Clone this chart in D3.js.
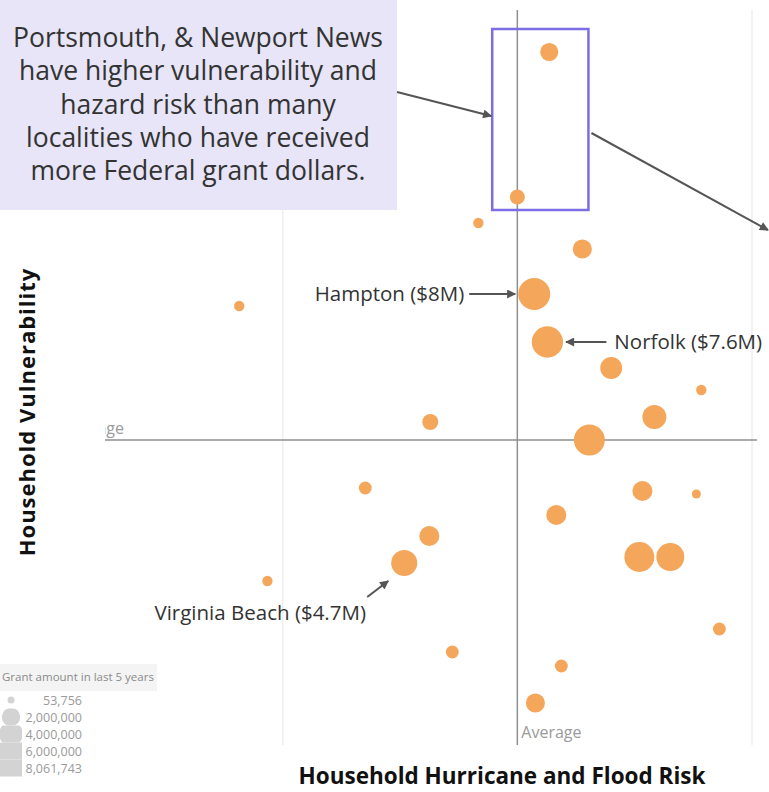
<!DOCTYPE html>
<html>
<head>
<meta charset="utf-8">
<script src="https://cdn.jsdelivr.net/npm/d3@7"></script>
<style>
  body { margin: 0; background: #fff; }
  text { font-family: "Open Sans", sans-serif; }
</style>
</head>
<body>
<div id="chart"></div>
<script>
// household hurricane/flood risk (x) vs household vulnerability (y), 0 = average
const xRisk = [0.136, 0.0, -0.166, 0.277, -1.185, 0.072, 0.128, 0.40, 0.784, -0.371, 0.584, 0.307, -0.648,
  0.533, 0.763, 0.166, -0.375, -0.482, 0.52, 0.652, -1.065, 0.861, -0.277, 0.1875, 0.077]
const yVuln = [3.88, 2.43, 2.17, 1.91, 1.34, 1.46, 0.98, 0.72, 0.50, 0.18, 0.23, 0.00, -0.48,
  -0.51, -0.54, -0.75, -0.96, -1.23, -1.17, -1.17, -1.41, -1.89, -2.12, -2.26, -2.63]
const grants = [1600000, 850000, 150000, 1900000, 150000, 8061743, 7600000, 2900000, 150000, 1050000, 3700000, 7400000, 450000,
  2200000, 53756, 2200000, 2200000, 4700000, 6800000, 5700000, 150000, 450000, 450000, 450000, 1900000]
const callouts = [
  {i: 5, label: "Hampton ($8M)", side: "left"},
  {i: 6, label: "Norfolk ($7.6M)", side: "right"},
  {i: 17, label: "Virginia Beach ($4.7M)", side: "below"}
]
const legendValues = [53756, 2000000, 4000000, 6000000, 8061743]
const noteLines = ["Portsmouth, & Newport News", "have higher vulnerability and", "hazard risk than many",
  "localities who have received", "more Federal grant dollars."]

const width = 769, height = 792

const x = d3.scaleLinear().domain([-2, 1]).range([48, 752])
const y = d3.scaleLinear().domain([-3.05, 4.3]).range([745, 10])
const r = d3.scaleSqrt().domain([53756, 8061743]).range([4.5, 16])

const data = xRisk.map((d, i) => ({x: d, y: yVuln[i], g: grants[i]}))

const svg = d3.select("#chart").append("svg")
    .attr("width", width)
    .attr("height", height)

const defs = svg.append("defs")
defs.append("marker")
    .attr("id", "arrow")
    .attr("viewBox", "0 0 10 10")
    .attr("refX", 9).attr("refY", 5)
    .attr("markerWidth", 10).attr("markerHeight", 9)
    .attr("markerUnits", "userSpaceOnUse")
    .attr("orient", "auto")
  .append("path")
    .attr("d", "M0,0L10,5L0,10z")
    .attr("fill", "#555")
defs.append("clipPath").attr("id", "plotclip")
  .append("rect").attr("x", 105).attr("y", 0).attr("width", 660).attr("height", 760)

// faint grid
svg.append("g")
  .selectAll("line")
  .data([-1, 1])
  .enter().append("line")
    .attr("x1", d => x(d)).attr("x2", d => x(d))
    .attr("y1", y.range()[1]).attr("y2", y.range()[0])
    .attr("stroke", "#eeeeee")
    .attr("stroke-width", 1.5)

// average reference lines
const ref = svg.append("g").attr("clip-path", "url(#plotclip)")
ref.append("line")
    .attr("x1", 40).attr("x2", 757)
    .attr("y1", y(0)).attr("y2", y(0))
    .attr("stroke", "#8f8f8f").attr("stroke-width", 1.5)
ref.append("text")
    .attr("x", 124).attr("y", y(0) - 6)
    .attr("text-anchor", "end")
    .attr("font-size", 16)
    .attr("fill", "#9a9a9a")
    .text("Average")

svg.append("line")
    .attr("x1", x(0)).attr("x2", x(0))
    .attr("y1", y.range()[1]).attr("y2", y.range()[0])
    .attr("stroke", "#8f8f8f").attr("stroke-width", 1.5)
svg.append("text")
    .attr("x", x(0) + 4).attr("y", 738)
    .attr("font-size", 16)
    .attr("fill", "#9a9a9a")
    .text("Average")

// bubbles
svg.append("g")
  .selectAll("circle")
  .data(data)
  .enter().append("circle")
    .attr("cx", d => x(d.x))
    .attr("cy", d => y(d.y))
    .attr("r", d => r(d.g))
    .attr("fill", "#f4a65a")

// note box
svg.append("rect")
    .attr("x", 0).attr("y", 0)
    .attr("width", 397).attr("height", 210)
    .attr("fill", "#e7e5f7")
svg.append("g")
  .selectAll("text")
  .data(noteLines)
  .enter().append("text")
    .attr("x", 198)
    .attr("y", (d, i) => 47 + i * 33.3)
    .attr("text-anchor", "middle")
    .attr("font-size", 26.5)
    .attr("fill", "#333")
    .text(d => d)

// highlight box round Portsmouth & Newport News
const box = {x0: -0.107, x1: 0.303, y0: 2.30, y1: 4.11}
svg.append("rect")
    .attr("x", x(box.x0)).attr("y", y(box.y1))
    .attr("width", x(box.x1) - x(box.x0))
    .attr("height", y(box.y0) - y(box.y1))
    .attr("fill", "none")
    .attr("stroke", "#7b6de3")
    .attr("stroke-width", 2.5)

const arrows = svg.append("g")
    .attr("stroke", "#555")
    .attr("stroke-width", 2)
arrows.append("line")
    .attr("x1", 397).attr("y1", 92)
    .attr("x2", x(box.x0) - 1).attr("y2", 116)
    .attr("marker-end", "url(#arrow)")
arrows.append("line")
    .attr("x1", x(box.x1) + 3).attr("y1", 133)
    .attr("x2", 768).attr("y2", 230)
    .attr("marker-end", "url(#arrow)")

// city callouts
callouts.forEach(c => {
  const d = data[c.i]
  const cx = x(d.x), cy = y(d.y), rr = r(d.g)
  let t
  if (c.side === "left") {
    arrows.append("line")
        .attr("x1", cx - 65).attr("y1", cy)
        .attr("x2", cx - rr - 3).attr("y2", cy)
        .attr("marker-end", "url(#arrow)")
    t = svg.append("text").attr("x", cx - 70).attr("y", cy + 7).attr("text-anchor", "end")
  } else if (c.side === "right") {
    arrows.append("line")
        .attr("x1", cx + 59).attr("y1", cy)
        .attr("x2", cx + rr + 3).attr("y2", cy)
        .attr("marker-end", "url(#arrow)")
    t = svg.append("text").attr("x", cx + 67).attr("y", cy + 7).attr("text-anchor", "start")
  } else {
    arrows.append("line")
        .attr("x1", cx - 37).attr("y1", cy + 34)
        .attr("x2", cx - 16).attr("y2", cy + 18)
        .attr("marker-end", "url(#arrow)")
    t = svg.append("text").attr("x", cx - 144).attr("y", cy + 57).attr("text-anchor", "middle")
  }
  t.attr("font-size", 20.5).attr("fill", "#333").text(c.label)
})

// axis titles
svg.append("text")
    .attr("transform", "translate(35,412) rotate(-90)")
    .attr("text-anchor", "middle")
    .attr("font-size", 22)
    .attr("font-weight", 700)
    .attr("letter-spacing", 1)
    .attr("fill", "#111")
    .text("Household Vulnerability")
svg.append("text")
    .attr("x", 502).attr("y", 784)
    .attr("text-anchor", "middle")
    .attr("font-size", 22.5)
    .attr("font-weight", 700)
    .attr("fill", "#111")
    .text("Household Hurricane and Flood Risk")

// size legend
const legend = svg.append("g")
legend.append("rect")
    .attr("x", 0).attr("y", 664)
    .attr("width", 157).attr("height", 27)
    .attr("fill", "#f4f4f4")
legend.append("text")
    .attr("x", 2).attr("y", 681)
    .attr("font-size", 11.5)
    .attr("fill", "#8a8a8a")
    .text("Grant amount in last 5 years")

const lr = d3.scaleSqrt().domain([53756, 8061743]).range([3.5, 16])
const rows = legend.selectAll(".row")
  .data(legendValues)
  .enter().append("g")
    .attr("class", "row")
    .attr("transform", (d, i) => `translate(0,${700 + i * 17})`)
rows.append("clipPath")
    .attr("id", (d, i) => "lc" + i)
  .append("rect")
    .attr("x", 0).attr("y", -8.5)
    .attr("width", 22).attr("height", 17)
rows.append("circle")
    .attr("cx", 11).attr("cy", 0)
    .attr("r", d => lr(d))
    .attr("clip-path", (d, i) => `url(#lc${i})`)
    .attr("fill", "#d3d3d3")
rows.append("text")
    .attr("x", 82).attr("y", 4.5)
    .attr("text-anchor", "end")
    .attr("font-size", 12.5)
    .attr("fill", "#9a9a9a")
    .text(d => d3.format(",")(d))
</script>
</body>
</html>
